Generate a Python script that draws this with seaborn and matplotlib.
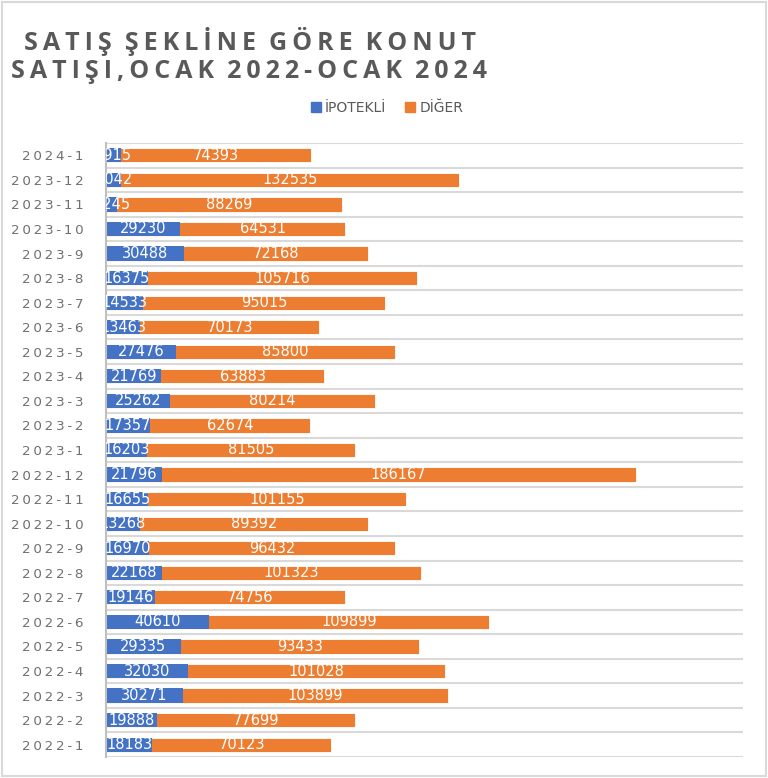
import matplotlib.pyplot as plt
import seaborn as sns
import pandas as pd
import numpy as np

months = ['2024-1', '2023-12', '2023-11', '2023-10', '2023-9', '2023-8', '2023-7',
          '2023-6', '2023-5', '2023-4', '2023-3', '2023-2', '2023-1', '2022-12',
          '2022-11', '2022-10', '2022-9', '2022-8', '2022-7', '2022-6', '2022-5',
          '2022-4', '2022-3', '2022-2', '2022-1']
ipotekli = [5915, 6042, 4245, 29230, 30488, 16375, 14533, 13463, 27476, 21769, 25262,
            17357, 16203, 21796, 16655, 13268, 16970, 22168, 19146, 40610, 29335,
            32030, 30271, 19888, 18183]
diger = [74393, 132535, 88269, 64531, 72168, 105716, 95015, 70173, 85800, 63883, 80214,
         62674, 81505, 186167, 101155, 89392, 96432, 101323, 74756, 109899, 93433,
         101028, 103899, 77699, 70123]

title_1 = 'SATIŞ ŞEKLİNE GÖRE KONUT'
title_2 = 'SATIŞI,OCAK 2022-OCAK 2024'

blue = '#4472C4'
orange = '#ED7D31'
grey_txt = '#595959'

df = pd.DataFrame({'ay': months, 'ipotekli': ipotekli, 'diger': diger})
df['toplam'] = df['ipotekli'] + df['diger']

sns.set_style("white")
plt.rcParams['font.family'] = ['DejaVu Sans']


def spaced(s, sep='\u2009', gap='   '):
    # poor man's letter spacing
    return sep.join(s).replace(sep + ' ' + sep, gap)


fig = plt.figure(figsize=(7.68, 7.78), dpi=100)
ax = fig.add_axes([106 / 768, 21 / 778, 637 / 768, 614 / 778])

# stacked: total first (orange), then mortgage part on top (blue)
sns.barplot(data=df, x='toplam', y='ay', color=orange, orient='h', width=0.58,
            edgecolor='white', linewidth=0.6, saturation=1, ax=ax)
sns.barplot(data=df, x='ipotekli', y='ay', color=blue, orient='h', width=0.58,
            edgecolor='white', linewidth=0.0, saturation=1, ax=ax)

for i, row in df.iterrows():
    ax.text(row['ipotekli'] / 2, i, str(row['ipotekli']), color='white', fontsize=10.5,
            ha='center', va='center', clip_on=True)
    ax.text(row['ipotekli'] + row['diger'] / 2, i, str(row['diger']), color='white',
            fontsize=10.5, ha='center', va='center', clip_on=True)

ax.set_xlim(0, 250000)
ax.set_ylim(len(months) - 0.5, -0.5)
ax.set_xticks([])
ax.set_yticks(range(len(months)))
ax.set_yticklabels([spaced(m) for m in months], color='#707070', fontsize=9.7)
ax.set_yticks(np.arange(-0.5, len(months), 1), minor=True)
ax.tick_params(axis='y', which='both', length=0, pad=16)
ax.grid(True, axis='y', which='minor', color='#D9D9D9', linewidth=1.5)
ax.grid(False, which='major')
ax.set_axisbelow(True)
ax.set_xlabel('')
ax.set_ylabel('')
for s in ['top', 'right', 'bottom']:
    ax.spines[s].set_visible(False)
ax.spines['left'].set_color('#BFBFBF')
ax.spines['left'].set_linewidth(1.5)

title_font = ['Open Sans', 'DejaVu Sans']
fig.text(250 / 768, 1 - 41 / 778, spaced(title_1, '\u2009', '  '), ha='center', va='center',
         family=title_font, fontsize=18, fontweight='bold', color=grey_txt)
fig.text(249 / 768, 1 - 72 / 778, spaced(title_2, '\u2009', '  '), ha='center', va='center',
         family=title_font, fontsize=18, fontweight='bold', color=grey_txt)

handles = [plt.Rectangle((0, 0), 1, 1, color=blue), plt.Rectangle((0, 0), 1, 1, color=orange)]
fig.legend(handles, ['İPOTEKLİ', 'DİĞER'], loc='center', bbox_to_anchor=(387 / 768, 1 - 108 / 778),
           ncol=2, frameon=False, fontsize=10, labelcolor=grey_txt, handlelength=0.7,
           handleheight=0.7, handletextpad=0.3, columnspacing=1.4)

# outer frame like the exported chart
fig.patches.append(plt.Rectangle((0.002, 0.002), 0.996, 0.996, transform=fig.transFigure,
                                 fill=False, edgecolor='#D9D9D9', linewidth=1.5))

fig.savefig('out.png', dpi=100)
